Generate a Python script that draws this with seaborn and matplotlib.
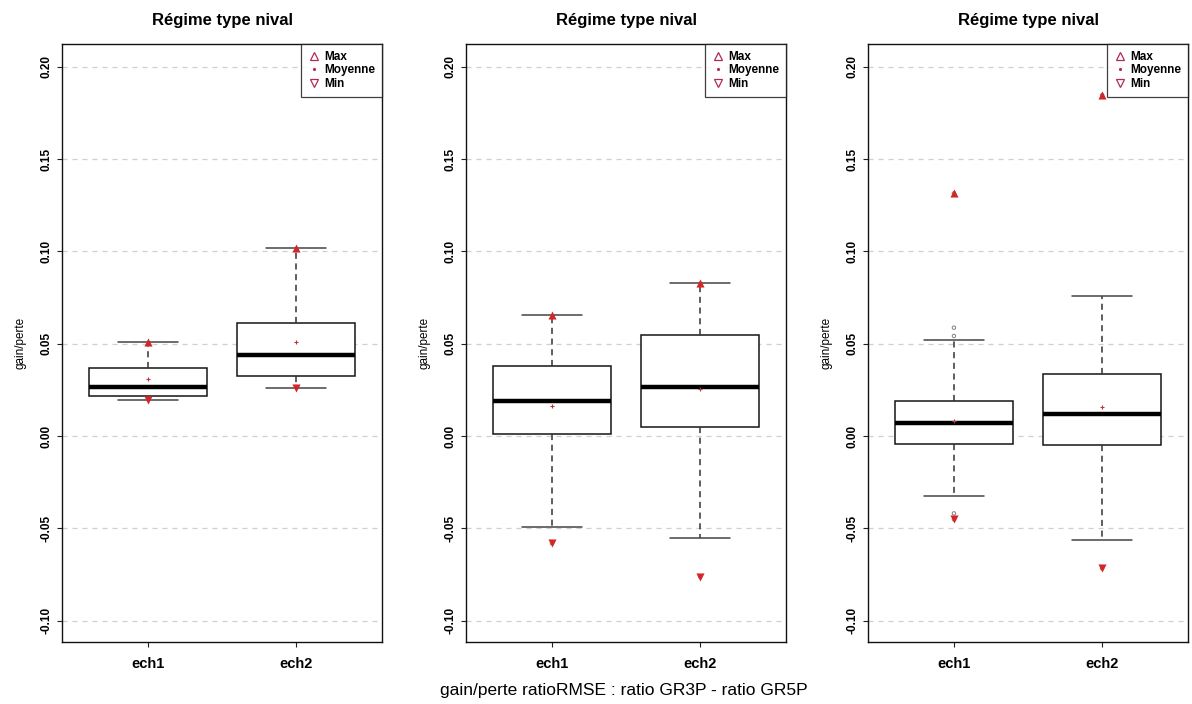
import numpy as np
import pandas as pd
import seaborn as sns
import matplotlib.pyplot as plt
from matplotlib.lines import Line2D

groups = ["ech1", "ech2"]
title = "Régime type nival"
y_ticks = [-0.10, -0.05, 0.00, 0.05, 0.10, 0.15, 0.20]
y_ticklabels = ["-0.10", "-0.05", "0.00", "0.05", "0.10", "0.15", "0.20"]

# whisker low, Q1, median, Q3, whisker high
p1_ech1 = [0.0197, 0.0218, 0.0265, 0.0370, 0.0511]
p1_ech2 = [0.0260, 0.0323, 0.0440, 0.0610, 0.1018]
p2_ech1 = [-0.0491, 0.0011, 0.0191, 0.0378, 0.0657]
p2_ech2 = [-0.0551, 0.0050, 0.0267, 0.0547, 0.0827]
p3_ech1 = [-0.0323, -0.0042, 0.0069, 0.0190, 0.0518]
p3_ech2 = [-0.0563, -0.0051, 0.0121, 0.0338, 0.0757]

means_p1 = [0.0307, 0.0511]
means_p2 = [0.0161, 0.0255]
means_p3 = [0.0083, 0.0155]

maxs_p1 = [0.0511, 0.1018]
maxs_p2 = [0.0657, 0.0827]
maxs_p3 = [0.1315, 0.1847]

mins_p1 = [0.0197, 0.0260]
mins_p2 = [-0.0581, -0.0762]
mins_p3 = [-0.0451, -0.0717]

outliers_p1 = [[], []]
outliers_p2 = [[-0.0581], [-0.0762]]
outliers_p3 = [[0.1315, 0.0587, 0.0542, -0.0419, -0.0451], [0.1847, -0.0717]]

panels = [
    ([p1_ech1, p1_ech2], means_p1, maxs_p1, mins_p1, outliers_p1),
    ([p2_ech1, p2_ech2], means_p2, maxs_p2, mins_p2, outliers_p2),
    ([p3_ech1, p3_ech2], means_p3, maxs_p3, mins_p3, outliers_p3),
]

sns.set_theme(style="ticks")
plt.rcParams["font.family"] = ["Liberation Sans", "DejaVu Sans"]
plt.rcParams.update({"text.color": "black", "axes.labelcolor": "black",
                     "xtick.color": "black", "ytick.color": "black"})

fig = plt.figure(figsize=(11.92, 7.04), dpi=100)
W, H = 1192, 704
lefts = [62, 466, 868]
ax_w, top, bottom = 320, 44, 642

red = "#d42626"
leg_col = "#b02a55"
pos = np.arange(len(groups))

for k, (five, means, maxs, mins, outl) in enumerate(panels):
    ax = fig.add_axes([lefts[k] / W, 1 - bottom / H, ax_w / W, (bottom - top) / H])
    rows = [(g, v) for g, vals in zip(groups, five) for v in vals]
    df = pd.DataFrame(rows, columns=["groupe", "valeur"])
    sns.boxplot(data=df, x="groupe", y="valeur", order=groups, ax=ax,
                whis=(0, 100), width=0.8, color="white", linecolor="#151515",
                linewidth=1.1, showfliers=False,
                medianprops=dict(linewidth=3.2, color="black"),
                whiskerprops=dict(linestyle=(0, (4, 3)), color="#333333"),
                capprops=dict(color="#444444"))

    # outliers (open circles), then mean / max / min markers
    ox = [p for p, vals in zip(pos, outl) for _ in vals]
    oy = [v for vals in outl for v in vals]
    if oy:
        sns.scatterplot(x=ox, y=oy, ax=ax, marker="o", s=6, facecolor="none",
                        edgecolor="#808080", linewidth=0.7, zorder=3, legend=False)
    sns.scatterplot(x=pos, y=means, ax=ax, marker="+", s=7, color="#c03040",
                    linewidth=0.8, zorder=4, legend=False)
    sns.scatterplot(x=pos, y=maxs, ax=ax, marker="^", s=34, color=red,
                    linewidth=0, zorder=5, legend=False)
    sns.scatterplot(x=pos, y=mins, ax=ax, marker="v", s=34, color=red,
                    linewidth=0, zorder=5, legend=False)

    ax.set_xlim(-0.58, 1.58)
    ax.set_ylim(-0.1116, 0.2124)
    ax.set_yticks(y_ticks)
    ax.set_yticklabels(y_ticklabels, rotation=90, va="center", fontsize=8.5,
                       fontweight="bold")
    ax.set_xticks(pos)
    ax.set_xticklabels(groups, fontsize=10.5, fontweight="bold")
    ax.tick_params(axis="both", direction="out", length=3.6, width=0.8,
                   color="#222222")
    ax.tick_params(axis="y", pad=3)
    ax.tick_params(axis="x", pad=7)
    ax.yaxis.grid(True, linestyle=(0, (4, 4)), color="#cfcfcf", linewidth=0.9)
    ax.set_axisbelow(True)
    for sp in ax.spines.values():
        sp.set_color("#111111")
        sp.set_linewidth(1.0)
    ax.set_xlabel("")
    ax.set_ylabel("gain/perte", fontsize=8.5, labelpad=10)
    ax.set_title(title, fontsize=12, fontweight="bold", pad=14)

    handles = [
        Line2D([], [], marker="^", ls="none", mfc="none", mec=leg_col, ms=5.5, mew=0.9),
        Line2D([], [], marker=".", ls="none", color=leg_col, ms=2.5),
        Line2D([], [], marker="v", ls="none", mfc="none", mec=leg_col, ms=5.5, mew=0.9),
    ]
    leg = ax.legend(handles, ["Max", "Moyenne", "Min"], loc="upper right",
                    borderaxespad=0, prop=dict(weight="bold", size=8.5),
                    frameon=True, fancybox=False, edgecolor="#111111",
                    handlelength=1.0, handletextpad=0.3, borderpad=0.6,
                    labelspacing=0.12)
    leg.get_frame().set_linewidth(0.9)

fig.text(624 / W, 1 - 690 / H, "gain/perte ratioRMSE : ratio GR3P - ratio GR5P",
         ha="center", va="center", fontsize=12.5)

fig.savefig("out.png", dpi=100)
